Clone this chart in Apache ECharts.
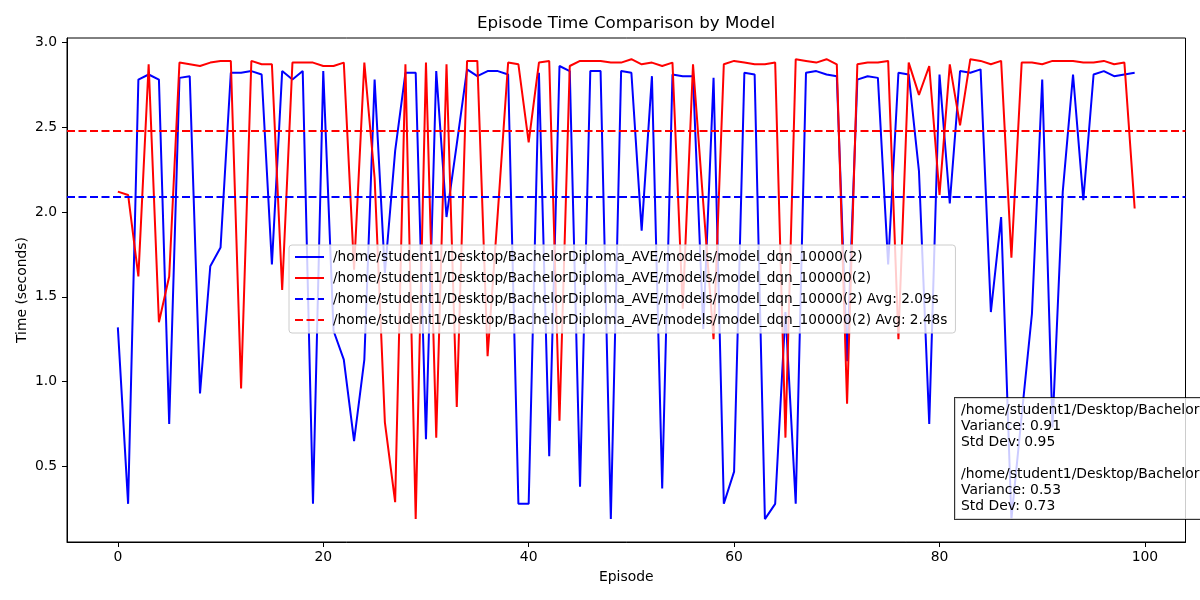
<!DOCTYPE html>
<html>
<head>
<meta charset="utf-8">
<title>Episode Time Comparison by Model</title>
<script src="https://cdn.jsdelivr.net/npm/echarts@6/dist/echarts.min.js"></script>
<style>
  html, body { margin: 0; padding: 0; background: #fff; }
  #chartDiv { width: 1200px; height: 600px; }
</style>
</head>
<body>
<div id="chartDiv"></div>
<script>
// 数据
var modelNames = [
    '/home/student1/Desktop/BachelorDiploma_AVE/models/model_dqn_10000(2)',
    '/home/student1/Desktop/BachelorDiploma_AVE/models/model_dqn_100000(2)'
];
var episodes = [];
for (var e = 0; e < 100; e++) episodes.push(e);

var times10k = [
    1.32, 0.28, 2.78, 2.81, 2.78, 0.75, 2.79, 2.80, 0.93, 1.68,
    1.79, 2.82, 2.82, 2.83, 2.81, 1.69, 2.83, 2.78, 2.83, 0.28,
    2.83, 1.30, 1.13, 0.65, 1.13, 2.78, 1.64, 2.36, 2.82, 2.82,
    0.66, 2.83, 1.97, 2.40, 2.84, 2.80, 2.83, 2.83, 2.81, 0.28,
    0.28, 2.82, 0.56, 2.86, 2.83, 0.38, 2.83, 2.83, 0.19, 2.83,
    2.82, 1.89, 2.80, 0.37, 2.81, 2.80, 2.80, 1.31, 2.79, 0.28,
    0.47, 2.82, 2.81, 0.19, 0.28, 1.41, 0.28, 2.82, 2.83, 2.81,
    2.80, 1.12, 2.78, 2.80, 2.79, 1.69, 2.82, 2.81, 2.24, 0.75,
    2.81, 2.05, 2.83, 2.82, 2.84, 1.41, 1.97, 0.19, 0.80, 1.40,
    2.78, 0.73, 2.12, 2.81, 2.07, 2.81, 2.83, 2.80, 2.81, 2.82
];
var times100k = [
    2.12, 2.10, 1.62, 2.87, 1.35, 1.62, 2.88, 2.87, 2.86, 2.88,
    2.89, 2.89, 0.96, 2.89, 2.87, 2.87, 1.54, 2.88, 2.88, 2.88,
    2.86, 2.86, 2.88, 1.66, 2.88, 2.20, 0.76, 0.29, 2.87, 0.19,
    2.88, 0.67, 2.87, 0.85, 2.89, 2.89, 1.15, 2.00, 2.88, 2.87,
    2.41, 2.88, 2.89, 0.77, 2.86, 2.89, 2.89, 2.89, 2.88, 2.88,
    2.90, 2.87, 2.88, 2.86, 2.88, 1.43, 2.87, 2.05, 1.25, 2.87,
    2.89, 2.88, 2.87, 2.87, 2.88, 0.67, 2.90, 2.89, 2.88, 2.90,
    2.87, 0.87, 2.87, 2.88, 2.88, 2.89, 1.25, 2.88, 2.69, 2.86,
    2.10, 2.87, 2.51, 2.90, 2.89, 2.87, 2.89, 1.73, 2.88, 2.88,
    2.87, 2.89, 2.89, 2.89, 2.88, 2.88, 2.89, 2.87, 2.88, 2.02
];
var avgTimes = [2.094, 2.484];
var variances = [0.91, 0.53];
var stdDevs = [0.95, 0.73];
var xTicks = [0, 20, 40, 60, 80, 100];
var yTicks = [0.5, 1.0, 1.5, 2.0, 2.5, 3.0];

var FONT = '"DejaVu Sans", "Liberation Sans", sans-serif';
var colors = ['#0000ff', '#ff0000'];

function pairs(ys) {
    return ys.map(function (v, i) { return [episodes[i], v]; });
}

// 统计信息文本框
var statsText = modelNames.map(function (n, i) {
    return n + ':\nVariance: ' + variances[i].toFixed(2) + '\nStd Dev: ' + stdDevs[i].toFixed(2);
}).join('\n\n');

var avgNames = modelNames.map(function (n, i) {
    return n + ' Avg: ' + avgTimes[i].toFixed(2) + 's';
});

var Chart1 = echarts.init(document.getElementById('chartDiv'), null, {renderer: 'canvas'});

var option = {
    animation: false,
    backgroundColor: '#ffffff',
    textStyle: {fontFamily: FONT, color: '#000'},
    title: {
        text: 'Episode Time Comparison by Model',
        left: 626,
        top: 15,
        padding: 0,
        textAlign: 'center',
        textStyle: {fontFamily: FONT, fontSize: 16.7, fontWeight: 'normal', color: '#000'}
    },
    grid: {
        left: 67, right: 14.5, top: 38, bottom: 58,
        show: true, borderColor: '#000', borderWidth: 1, backgroundColor: 'transparent'
    },
    legend: {
        orient: 'vertical',
        left: 289,
        top: 245,
        padding: [5, 8, 6, 5],
        itemGap: 7,
        itemWidth: 29,
        itemHeight: 14,
        backgroundColor: 'rgba(255,255,255,0.8)',
        borderColor: '#cccccc',
        borderWidth: 1,
        borderRadius: 3,
        itemStyle: {opacity: 0},
        textStyle: {fontFamily: FONT, fontSize: 13.7, color: '#000', padding: [0, 0, 0, 4]},
        data: [modelNames[0], modelNames[1], avgNames[0], avgNames[1]],
        z: 10
    },
    xAxis: {
        type: 'value',
        min: -4.95,
        max: 103.95,
        name: 'Episode',
        nameLocation: 'middle',
        nameGap: 28,
        nameMoveOverlap: false,
        nameTextStyle: {fontFamily: FONT, fontSize: 13.9, color: '#000'},
        splitLine: {show: false},
        axisLine: {show: true, onZero: false, lineStyle: {color: '#000', width: 1}},
        axisTick: {show: true, inside: false, length: 5, lineStyle: {color: '#000'}, customValues: xTicks},
        axisLabel: {fontFamily: FONT, fontSize: 13.9, color: '#000', margin: 8, customValues: xTicks,
            formatter: function (v) { return String(Math.round(v)); }}
    },
    yAxis: {
        type: 'value',
        min: 0.055,
        max: 3.025,
        name: 'Time (seconds)',
        nameLocation: 'middle',
        nameGap: 38,
        nameMoveOverlap: false,
        nameTextStyle: {fontFamily: FONT, fontSize: 13.9, color: '#000'},
        splitLine: {show: false},
        axisLine: {show: true, onZero: false, lineStyle: {color: '#000', width: 1}},
        axisTick: {show: true, inside: false, length: 5, lineStyle: {color: '#000'}, customValues: yTicks},
        axisLabel: {fontFamily: FONT, fontSize: 13.9, color: '#000', margin: 10, customValues: yTicks,
            formatter: function (v) { return v.toFixed(1); }}
    },
    series: [
        {
            name: modelNames[0], type: 'line', data: pairs(times10k),
            symbol: 'none', color: colors[0],
            lineStyle: {color: colors[0], width: 2}, z: 2
        },
        {
            name: modelNames[1], type: 'line', data: pairs(times100k),
            symbol: 'none', color: colors[1],
            lineStyle: {color: colors[1], width: 2}, z: 3
        },
        {
            name: avgNames[0], type: 'line', data: [],
            symbol: 'none', color: colors[0],
            lineStyle: {color: colors[0], width: 2, type: [8, 3.5]},
            markLine: {
                silent: true, symbol: 'none', label: {show: false},
                lineStyle: {color: colors[0], width: 2, type: [8, 3.5]},
                data: [{yAxis: avgTimes[0]}]
            },
            z: 4
        },
        {
            name: avgNames[1], type: 'line', data: [],
            symbol: 'none', color: colors[1],
            lineStyle: {color: colors[1], width: 2, type: [8, 3.5]},
            markLine: {
                silent: true, symbol: 'none', label: {show: false},
                lineStyle: {color: colors[1], width: 2, type: [8, 3.5]},
                data: [{yAxis: avgTimes[1]}]
            },
            z: 5
        }
    ],
    graphic: [{
        type: 'text',
        left: 954,
        top: 397,
        z: 100,
        style: {
            text: statsText,
            font: '13.9px ' + FONT,
            fill: '#000',
            lineHeight: 16,
            backgroundColor: 'rgba(255,255,255,0.8)',
            borderColor: 'rgba(0,0,0,0.8)',
            borderWidth: 1,
            padding: [4, 6, 5, 6]
        }
    }]
};

Chart1.setOption(option);
</script>
</body>
</html>
